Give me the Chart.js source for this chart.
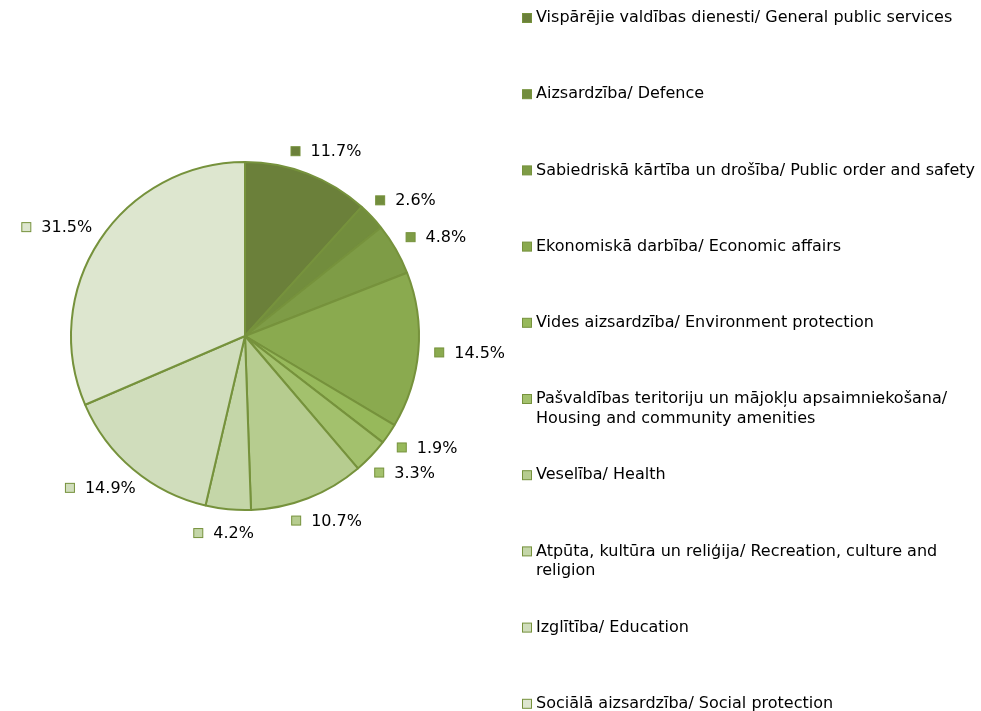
<!DOCTYPE html>
<html><head><meta charset="utf-8">
<script src="https://cdn.jsdelivr.net/npm/chart.js@4"></script>
<style>html,body{margin:0;padding:0;background:#fff}#wrap{width:981px;height:711px;position:relative}</style>
</head><body><div id="wrap"><canvas id="c" width="981" height="711"></canvas></div>
<script>
const categories = [
  ["Vispārējie valdības dienesti/ General public services"],
  ["Aizsardzība/ Defence"],
  ["Sabiedriskā kārtība un drošība/ Public order and safety"],
  ["Ekonomiskā darbība/ Economic affairs"],
  ["Vides aizsardzība/ Environment protection"],
  ["Pašvaldības teritoriju un mājokļu apsaimniekošana/", "Housing and community amenities"],
  ["Veselība/ Health"],
  ["Atpūta, kultūra un reliģija/ Recreation, culture and", "religion"],
  ["Izglītība/ Education"],
  ["Sociālā aizsardzība/ Social protection"]
];
const shares = [11.7, 2.6, 4.8, 14.5, 1.9, 3.3, 10.7, 4.2, 14.9, 31.5];
const sliceColors = ["#6b803a","#728d3d","#7e9c46","#8aaa4f","#97b95b","#a3c16d","#b6cc8f","#c4d6a8","#d0ddbc","#dde6cf"];
const borderColor = "#76923c";
const FONT = '16px "DejaVu Sans", Verdana, sans-serif';

const labelPlugin = {
  id: 'outLabels',
  afterDatasetsDraw(chart) {
    const ctx = chart.ctx;
    const meta = chart.getDatasetMeta(0);
    ctx.save();
    ctx.font = FONT;
    ctx.textBaseline = 'middle';
    meta.data.forEach((arc, i) => {
      const p = arc.getProps(['x','y','startAngle','endAngle','outerRadius'], true);
      const mid = (p.startAngle + p.endAngle) / 2;
      const txt = shares[i].toFixed(1) + '%';
      const tw = ctx.measureText(txt).width;
      const w = 20 + tw, h = 16;
      const ux = Math.cos(mid), uy = Math.sin(mid);
      const d = p.outerRadius + 16;
      const cx = p.x + ux*d + (w/2)*ux, cy = p.y + uy*d + (h/2)*uy;
      const left = cx - w/2;
      ctx.fillStyle = sliceColors[i];
      ctx.fillRect(left + 0.5, cy - 4.5, 9, 9);
      ctx.strokeStyle = borderColor; ctx.lineWidth = 1;
      ctx.strokeRect(left + 0.5, cy - 4.5, 9, 9);
      ctx.fillStyle = '#000';
      ctx.textAlign = 'left';
      ctx.fillText(txt, left + 20, cy + 1);
    });
    ctx.restore();
  }
};

const legendPlugin = {
  id: 'sideLegend',
  afterDraw(chart) {
    const ctx = chart.ctx;
    ctx.save();
    ctx.font = FONT;
    ctx.textBaseline = 'middle';
    ctx.textAlign = 'left';
    const y0 = 18, step = 76.2, lh = 19.5;
    chart.data.labels.forEach((lines, i) => {
      const y = y0 + i * step;
      ctx.fillStyle = sliceColors[i];
      ctx.fillRect(522.5, y - 4.5, 9, 9);
      ctx.strokeStyle = borderColor; ctx.lineWidth = 1;
      ctx.strokeRect(522.5, y - 4.5, 9, 9);
      ctx.fillStyle = '#000';
      lines.forEach((ln, j) => ctx.fillText(ln, 536, y + j * lh));
    });
    ctx.restore();
  }
};

new Chart(document.getElementById('c'), {
  type: 'pie',
  data: {
    labels: categories,
    datasets: [{ data: shares, backgroundColor: sliceColors, borderColor: borderColor, borderWidth: 2 }]
  },
  options: {
    responsive: false,
    animation: false,
    layout: { padding: { left: 70, right: 561, top: 161, bottom: 200 } },
    plugins: { legend: { display: false }, tooltip: { enabled: false } }
  },
  plugins: [labelPlugin, legendPlugin]
});
</script></body></html>
